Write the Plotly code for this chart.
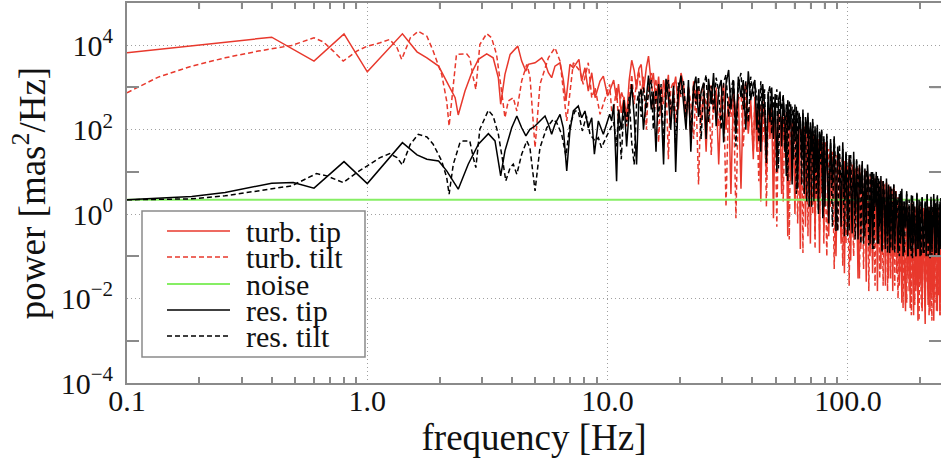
import math
import plotly.graph_objects as go

# ---------------- data (frequency in Hz, power in mas^2/Hz) ----------------
TURB_TIP_F_LOW = [0.1, 0.4, 0.6, 0.8, 1.0, 1.4, 1.61, 1.77, 1.98, 2.14, 2.32, 2.39, 2.55, 2.72, 2.90,
                  3.14, 3.34, 3.51, 3.59, 3.74, 3.93, 4.23, 4.39, 4.57, 4.68, 4.99, 5.32, 5.49, 5.67,
                  5.85, 6.04, 6.34, 6.54, 6.71, 6.97, 7.20, 7.60, 7.80, 8.05, 8.31, 8.59, 8.87, 9.30,
                  9.60, 10.0, 10.2]
TURB_TIP_P_LOW = [6600, 15500, 4210, 18600, 2350, 18600, 6980, 5040, 3200, 1420, 571, 223, 822, 2230,
                  4620, 6270, 5040, 1700, 399, 2040, 6060, 9520, 4210, 2440, 3520, 3840, 5040, 3840,
                  2230, 1700, 3200, 3840, 1550, 477, 3520, 2920, 4620, 1420, 2920, 822, 2230, 571,
                  1420, 1860, 626, 822]

TURB_TILT_F_LOW = [0.1, 0.135, 0.186, 0.256, 0.352, 0.484, 0.6, 0.656, 0.722, 0.794, 0.904, 1.0, 1.13,
                   1.24, 1.33, 1.39, 1.51, 1.63, 1.77, 1.88, 2.04, 2.14, 2.19, 2.29, 2.35, 2.59, 2.67,
                   2.76, 2.83, 2.94, 3.14, 3.29, 3.45, 3.62, 3.74, 3.86, 4.05, 4.19, 4.39, 4.61, 4.75,
                   4.99, 5.23, 5.67, 6.04, 6.34, 6.54, 6.76, 7.20, 7.68, 7.92, 8.31, 8.59, 8.87, 9.30,
                   9.60, 10.2, 10.4]
TURB_TILT_P_LOW = [750, 1760, 3200, 5040, 7260, 9890, 14960, 12030, 7260, 4210, 7260, 9520, 11400,
                   13700, 8680, 4620, 14960, 21500, 16400, 7260, 2040, 477, 122, 1700, 6060, 6270,
                   5040, 1700, 902, 10400, 18800, 14960, 6060, 822, 192, 477, 571, 277, 1420, 3520,
                   1860, 37.5, 1180, 5040, 8680, 4210, 984, 161, 3840, 2440, 1180, 3840, 571, 984,
                   231, 399, 1180, 277]

RES_TIP_F_LOW = [0.1, 0.186, 0.256, 0.330, 0.4, 0.492, 0.6, 0.8, 1.0, 1.4, 1.61, 1.77, 1.98, 2.14,
                 2.39, 2.63, 2.90, 3.19, 3.40, 3.59, 3.74, 3.99, 4.19, 4.39, 4.57, 4.75, 4.99, 5.32,
                 5.49, 5.67, 5.85, 6.04, 6.34, 6.54, 6.76, 6.97, 7.20, 7.55, 7.80, 8.05, 8.31, 8.59,
                 8.81, 9.15, 9.60, 10.2, 10.4]
RES_TIP_P_LOW = [2.18, 2.61, 3.24, 4.26, 5.41, 5.59, 4.12, 17.5, 5.29, 49.3, 25.2, 20, 18.2, 10.6,
                 3.90, 15.2, 45.2, 80.4, 54.1, 8.04, 31.4, 111, 211, 111, 71, 102, 122, 176, 211, 134,
                 77.9, 134, 231, 111, 10.6, 93.2, 277, 363, 192, 277, 111, 192, 26.2, 161, 77.9, 231,
                 161]

RES_TILT_F_LOW = [0.1, 0.186, 0.256, 0.352, 0.484, 0.615, 0.678, 0.794, 0.904, 1.0, 1.13, 1.24, 1.33,
                  1.40, 1.51, 1.63, 1.77, 1.88, 2.04, 2.14, 2.19, 2.28, 2.43, 2.51, 2.67, 2.76, 2.83,
                  2.94, 3.19, 3.34, 3.51, 3.68, 3.77, 3.93, 4.05, 4.19, 4.39, 4.61, 4.75, 4.99, 5.23,
                  5.58, 5.94, 6.14, 6.44, 6.71, 6.97, 7.32, 7.55, 7.85, 8.16, 8.45, 8.87, 9.15, 9.43,
                  10.0]
RES_TILT_P_LOW = [2.18, 2.30, 2.71, 3.56, 4.67, 9.12, 8.04, 5.59, 9.63, 13.9, 21.8, 27.1, 21.8, 14.6,
                  45.2, 77.9, 67.2, 45.2, 18.2, 7.33, 2.97, 15.2, 49.3, 54.1, 54.1, 21.8, 12.6, 102,
                  288, 211, 77.9, 15.2, 6.13, 12.6, 15.2, 8.83, 26.2, 54.1, 37.5, 3.56, 37.5, 111,
                  176, 146, 77.9, 23.9, 134, 277, 277, 93.2, 211, 77.9, 54.1, 64.7, 37.5, 77.9]

# high-frequency part, common sampling for all four spectra
HF_FREQ = [10.6, 10.9, 11.1, 11.4, 11.7, 12.0, 12.3, 12.6, 12.9, 13.2, 13.5, 13.8, 14.1, 14.5, 14.8,
           15.2, 15.5, 15.9, 16.3, 16.7, 17.1, 17.5, 17.9, 18.3, 18.8, 19.2, 19.7, 20.2,
           20.7, 21.2, 21.7, 22.2, 22.8, 23.3, 23.9, 24.5, 25.1, 25.7, 26.3, 27.0, 27.6, 28.3, 29.0,
           29.7, 30.4, 31.1, 31.9, 32.6, 33.4, 34.2, 35.0, 35.9, 36.7, 37.6, 38.5, 39.4, 40.4,
           41.0, 41.8, 42.6, 43.4, 44.2, 45.0, 45.8, 46.6, 47.4, 48.2, 49.0, 49.8, 50.6, 51.4, 52.2,
           53.0, 53.8, 54.6, 55.4, 56.2, 57.0, 57.8, 58.6, 59.4, 60.2, 61.0, 61.8, 62.6, 63.4, 64.2,
           65.0, 65.8, 66.6, 67.4, 68.2, 69.0, 69.8, 70.6, 71.4, 72.2, 73.0, 73.8, 74.6, 75.4, 76.2,
           77.0, 77.8, 78.6, 79.4, 80.2,
           81.7, 83.2, 84.7, 86.2, 87.7, 89.2, 90.7, 92.2, 93.7, 95.2, 96.7, 98.2, 99.7, 101.2,
           102.7, 104.2, 105.7, 107.2, 108.7, 110.2, 111.7, 113.2, 114.7, 116.2, 117.7, 119.2,
           120.7, 122.2, 123.7, 125.2, 126.7, 128.2, 129.7, 131.2, 132.7, 134.2, 135.7, 137.2,
           138.7, 140.2, 141.7, 143.2, 144.7, 146.2, 147.7, 149.2, 150.7, 152.2, 153.7, 155.2,
           156.7, 158.2, 159.7,
           161.7, 163.7, 165.7, 167.7, 169.7, 171.7, 173.7, 175.7, 177.7, 179.7, 181.7, 183.7,
           185.7, 187.7, 189.7, 191.7, 193.7, 195.7, 197.7, 199.7, 201.7, 203.7, 205.7, 207.7,
           209.7, 211.7, 213.7, 215.7, 217.7, 219.7, 221.7, 223.7, 225.7, 227.7, 229.7, 231.7,
           233.7, 235.7, 237.7, 239.7, 241.7, 243.7, 245.7]

TURB_TIP_P_HF = [1.5e3, 5e2, 1.2e3, 2.5e2, 6e2, 2e2, 1.5e3, 4.4e3, 2.5e3, 9e2, 2.8e3, 3.5e3, 8e2, 3e3,
                 5.5e3, 1.2e3, 2.2e3, 4e2, 1.8e3, 2.5e2, 1.5e3, 6e2, 2e3, 1.5e2, 9e2, 1.8e3, 3e2, 2.2e3,
                 1.2e3, 2e2, 8e2, 6e1, 1.4e3, 4e2, 1e3, 1.5e2, 7e2, 3e1, 9e2, 1.1e3, 2.5e2, 8e2, 1.5e1,
                 6e2, 1.2e3, 1e2, 5e2, 3, 9e2, 2e2, 7e2, 4, 6e2, 1.3e3, 8e1, 5e2, 2e1,
                 6e2, 3e1, 4e2, 2, 5e2, 1.5e2, 8, 3e2, 6e1, 4.5e2,
                 0.8, 3e2, 2e1, 2.5e2, 1.5e2, 3, 2e2, 4e1, 2.5e2, 0.3,
                 1.8e2, 6, 1.5e2, 8e1, 1, 1.5e2, 1.5e1, 1.2e2, 0.15, 1e2,
                 3e1, 1.2e2, 0.5, 8e1, 4, 1e2, 0.2, 7e1, 1.2e1, 8e1,
                 0.3, 6e1, 2, 5e1, 0.12, 6e1, 8, 4e1, 0.4, 5e1,
                 4e1, 0.3, 3e1, 2, 3.5e1, 0.1, 2.5e1, 6, 0.2, 2e1,
                 0.04, 1.8e1, 1, 2e1, 0.08, 1.5e1, 0.3, 1.2e1, 3, 0.03,
                 1.4e1, 0.15, 1e1, 0.5, 1.1e1, 0.025, 8, 1.5, 0.1, 9,
                 0.04, 7, 0.3, 8, 0.015, 6, 1, 0.05, 6, 0.2,
                 5, 0.02, 5.5, 0.6, 0.03, 4.5, 0.1, 4, 0.015, 4,
                 0.3, 3.5, 0.04,
                 2.5, 0.02, 2, 0.008, 1.5, 0.1, 0.005, 2.2, 0.03, 1.2,
                 0.006, 1.8, 0.05, 0.004, 1.5, 0.015, 0.8, 0.003, 1.6, 0.02,
                 0.4, 0.006, 1.4, 0.01, 0.0025, 1.2, 0.04, 0.007, 1.5, 0.005,
                 0.6, 0.012, 1.3, 0.003, 0.2, 1.1, 0.008, 0.005, 1.4, 0.02,
                 0.004, 1, 0.01]

TURB_TILT_P_HF = [3e2, 1e3, 1.5e2, 8e2, 5e2, 1.2e2, 6e2, 2e3, 4e2, 1.5e3, 2.5e3, 6e2, 1.8e3, 1e2,
                  1.2e3, 2.2e3, 3e2, 1.6e3, 5e1, 1.1e3, 4e2, 1.5e3, 2e1, 9e2, 1.4e3, 1.5e2, 1e3, 6e2,
                  8e2, 1.5e2, 1.1e3, 4e2, 6e1, 9e2, 5, 7e2, 1.2e3, 3e2, 8e2, 2.5e1, 6e2, 1e3, 1.2e2,
                  5e2, 8e2, 1.5, 6e2, 2e2, 7e2, 0.8, 5e2, 8e2, 4e1, 6e2, 1e2, 4e2, 3e1,
                  5e2, 2e2, 6, 4e2, 5e1, 3.5e2, 1.5, 3e2, 1e2, 2.5e2,
                  1e1, 3e2, 0.5, 2e2, 6e1, 2.2e2, 2, 1.5e2, 2e1, 1.8e2,
                  0.25, 1.5e2, 5e1, 1.2e2, 4, 1.3e2, 0.6, 1e2, 2.5e1, 1.1e2,
                  0.12, 9e1, 6, 8e1, 0.3, 9e1, 2e1, 7e1, 1, 6e1,
                  0.15, 5.5e1, 1e1, 6e1, 0.4, 4.5e1, 3, 5e1, 0.2, 4e1,
                  0.1, 3.5e1, 1.5, 3e1, 0.05, 2.5e1, 0.4, 2.2e1, 5, 0.06,
                  1.8e1, 0.2, 1.5e1, 0.02, 1.6e1, 2, 0.1, 1.2e1, 0.5, 1.3e1,
                  0.03, 1e1, 3, 0.05, 9, 0.2, 1e1, 0.015, 8, 1,
                  0.08, 7, 0.02, 7.5, 0.4, 6, 0.03, 6.5, 2, 0.02,
                  5, 0.12, 5.5, 0.015, 4.5, 0.5, 0.03, 4, 0.08, 4.5,
                  0.02, 3.5, 0.2,
                  0.01, 2.5, 0.04, 1.8, 0.006, 2, 0.2, 0.008, 1.5, 0.015,
                  1, 0.004, 1.8, 0.06, 0.007, 1.3, 0.02, 0.5, 0.003, 1.5,
                  0.01, 0.005, 1.2, 0.1, 0.006, 1.4, 0.025, 0.8, 0.004, 1.2,
                  0.015, 0.003, 1.1, 0.3, 0.008, 1.3, 0.005, 0.6, 0.012, 1,
                  0.004, 1.2, 0.008]

RES_TIP_P_HF = [4e2, 6, 3e2, 1e2, 5e2, 4e1, 3e2, 1.2e3, 2e2, 1.5e1, 6e2, 9e2, 1e2, 5e2, 1.9e3, 3e2,
                8e2, 3e1, 1.2e3, 4e2, 1.5e1, 1.6e3, 6e2, 1e2, 1.1e3, 1e1, 8e2, 1.9e3,
                5e2, 1e2, 1.5e3, 3e1, 1e3, 1.8e3, 2e2, 8e2, 1.3e3, 6e1, 1.6e3, 4e2, 2.2e3, 1.2e2,
                9e2, 1.5e3, 5e1, 1.2e3, 2.6e3, 3e2, 1.4e3, 8e1, 1.8e3, 6e2, 1.5e3, 1e2, 2.4e3, 5e2,
                1.2e3,
                1.5e3, 1e2, 9e2, 3e1, 1.2e3, 4e2, 2e1, 8e2, 1.5e2, 1e3,
                6e1, 7e2, 1e1, 5e2, 8e2, 4e1, 6e2, 2e2, 8, 5e2,
                1e2, 4e2, 5, 3e2, 6e1, 3.5e2, 4, 2.5e2, 1.5e2, 2e1,
                3e2, 3, 2e2, 8e1, 2.5e2, 1.5, 1.5e2, 3e1, 1.8e2, 2,
                1.2e2, 1e1, 1.3e2, 1, 9e1, 4e1, 1e2, 0.8, 7e1, 1.5,
                8e1, 0.6, 6e1, 5, 7e1, 0.4, 4e1, 1.5e1, 0.5, 5e1,
                2, 3e1, 0.3, 2.5e1, 6, 0.35, 3e1, 1, 2e1, 0.25,
                1.5e1, 3, 1.8e1, 0.2, 1.2e1, 0.6, 1.5e1, 4, 0.2, 1e1,
                0.15, 9, 1.5, 1e1, 0.2, 7, 0.5, 8, 0.13, 6,
                2, 0.15, 7, 0.3, 5, 0.12, 4.5, 1, 0.14, 5,
                0.2, 3.5, 0.5,
                0.12, 3, 0.2, 4, 0.1, 2, 0.5, 3.5, 0.1, 1.5,
                0.15, 2.8, 0.09, 2, 0.3, 0.1, 3, 0.15, 2.2, 0.1,
                1, 2.5, 0.12, 0.4, 2, 0.1, 2.8, 0.2, 1.5, 0.09,
                2.2, 0.15, 0.6, 3, 0.1, 1.8, 0.12, 2.5, 0.3, 0.1,
                2, 0.15, 2.4]

RES_TILT_P_HF = [1.5e2, 4e1, 2.5e2, 2e1, 4e2, 1.5e2, 6e2, 5e1, 1.5e1, 4e2, 8e2, 2e2, 1e3, 3e2, 7e2,
                 1.5e3, 1e2, 9e2, 2e2, 1.2e3, 5e1, 8e2, 1.5e3, 3e2, 6e2, 4e1, 1.3e3, 7e2,
                 1.4e3, 2e2, 9e2, 8e1, 1.2e3, 4e2, 1.8e3, 6e1, 1e3, 2e3, 1.5e2, 1.1e3, 3e2, 1.7e3,
                 8e2, 1e2, 1.3e3, 2e3, 2e2, 9e2, 1.6e3, 4e1, 1.2e3, 2.2e3, 3e2, 1.4e3, 1.5e2, 1.8e3,
                 6e2,
                 1.2e3, 6e2, 5e1, 1.4e3, 2e2, 9e2, 1.5e1, 7e2, 1.1e3, 8e1,
                 6e2, 2.5e2, 9e2, 1.2e1, 5e2, 3e2, 7e2, 3e1, 4e2, 6,
                 5e2, 1.5e2, 3.5e2, 2e1, 4e2, 3, 2.8e2, 1e2, 2e2, 5,
                 2.5e2, 4e1, 1.5e2, 2, 2e2, 6e1, 1.2e2, 1.5, 1.6e2, 2e1,
                 1e2, 3, 1.1e2, 1.2, 8e1, 1.5e1, 9e1, 0.9, 6e1, 5,
                 7e1, 2, 5e1, 0.5, 6e1, 1e1, 0.4, 4.5e1, 3, 3.5e1,
                 0.3, 2.8e1, 8, 0.4, 2.5e1, 1.5, 2e1, 0.25, 1.8e1, 4,
                 1.2e1, 0.2, 1.5e1, 2, 0.3, 1.1e1, 5, 0.18, 9, 0.8,
                 1e1, 0.15, 7, 2.5, 8, 0.2, 6, 0.6, 0.14, 6.5,
                 3, 0.2, 5, 0.12, 4.5, 1.5, 0.15, 4, 0.4, 5,
                 0.12, 3, 0.8,
                 2.5, 0.1, 3.5, 0.3, 2, 0.12, 1.2, 3, 0.1, 2.2,
                 0.5, 0.1, 2.8, 0.2, 1.6, 0.1, 3.2, 0.15, 0.8, 2,
                 0.1, 2.5, 0.3, 0.12, 1.8, 0.4, 3, 0.1, 1.2, 0.2,
                 2.6, 0.1, 1.5, 0.5, 2.2, 0.12, 0.7, 2.8, 0.1, 1.8,
                 0.2, 2.4, 0.15]

NOISE_F = [0.1, 250.0]
NOISE_P = [2.18, 2.18]

for arr in (TURB_TIP_P_HF, TURB_TILT_P_HF, RES_TIP_P_HF, RES_TILT_P_HF):
    assert len(arr) == len(HF_FREQ), (len(arr), len(HF_FREQ))

X_TICKS = [0.1, 1, 10, 100]
X_TICK_TEXT = ["0.1", "1.0", "10.0", "100.0"]
X_MINOR = [0.2, 0.3, 0.4, 0.5, 0.6, 0.7, 0.8, 0.9, 2, 3, 4, 5, 6, 7, 8, 9,
           20, 30, 40, 50, 60, 70, 80, 90, 200]
Y_TICKS = [1e-4, 1e-2, 1, 1e2, 1e4]
Y_TICK_TEXT = ["10<sup>−4</sup>", "10<sup>−2</sup>", "10<sup>0</sup>", "10<sup>2</sup>", "10<sup>4</sup>"]
Y_MINOR = [1e-3, 1e-1, 10, 1e3]

LEGEND_NAMES = ["turb. tip", "turb. tilt", "noise", "res. tip", "res. tilt"]

# ---------------- styling ----------------
RED = "#e8382c"
GREEN = "#86ee64"
BLACK = "#000000"
AXIS = "#8a8a8a"
GRID = "#a0a0a0"
FONT = "Liberation Serif"
W, H = 941, 470
ML, MR, MT, MB = 127, 0, 3, 87
PW, PH = W - ML - MR, H - MT - MB
X_RANGE = [-1, -1 + PW / 240.3]
Y_RANGE = [-4, 5]


def px(x):
    return (x - ML) / PW


def py(y):
    return (H - MB - y) / PH


series = [
    (TURB_TIP_F_LOW + HF_FREQ, TURB_TIP_P_LOW + TURB_TIP_P_HF, RED, "solid"),
    (TURB_TILT_F_LOW + HF_FREQ, TURB_TILT_P_LOW + TURB_TILT_P_HF, RED, "5px,3px"),
    (NOISE_F, NOISE_P, GREEN, "solid"),
    (RES_TIP_F_LOW + HF_FREQ, RES_TIP_P_LOW + RES_TIP_P_HF, BLACK, "solid"),
    (RES_TILT_F_LOW + HF_FREQ, RES_TILT_P_LOW + RES_TILT_P_HF, BLACK, "5px,3px"),
]

fig = go.Figure()
for (f, p, c, d), name in zip(series, LEGEND_NAMES):
    fig.add_trace(go.Scatter(x=f, y=p, mode="lines", name=name, showlegend=False,
                             line=dict(color=c, width=2 if c == GREEN else 1.5, dash=d)))

shapes = []
# mirrored minor ticks on the top and right frame edges
for v in X_MINOR:
    xp = (math.log10(v) - X_RANGE[0]) / (X_RANGE[1] - X_RANGE[0])
    shapes.append(dict(type="line", xref="paper", yref="paper", x0=xp, x1=xp, y0=1, y1=1 - 6 / PH,
                       line=dict(color=AXIS, width=1.5), layer="above"))
for v in Y_MINOR:
    yp = (math.log10(v) - Y_RANGE[0]) / (Y_RANGE[1] - Y_RANGE[0])
    shapes.append(dict(type="line", xref="paper", yref="paper", x0=1, x1=1 - 11 / PW, y0=yp, y1=yp,
                       line=dict(color=AXIS, width=1.5), layer="above"))

# manual legend box
shapes.append(dict(type="rect", xref="paper", yref="paper", x0=px(142), x1=px(365), y0=py(357), y1=py(211),
                   line=dict(color=AXIS, width=1.5), fillcolor="white", layer="above"))
annotations = []
row_y = [231, 257, 284, 310, 336]
for (f, p, c, d), name, ry in zip(series, LEGEND_NAMES, row_y):
    shapes.append(dict(type="line", xref="paper", yref="paper", x0=px(167), x1=px(230),
                       y0=py(ry), y1=py(ry), layer="above",
                       line=dict(color=c, width=2 if c == GREEN else 1.5, dash=d)))
    annotations.append(dict(xref="paper", yref="paper", x=px(244), y=py(ry), text=name,
                            showarrow=False, xanchor="left", yanchor="middle",
                            font=dict(family=FONT, size=30, color="#111")))

fig.update_layout(
    width=W, height=H, margin=dict(l=ML, r=MR, t=MT, b=MB, autoexpand=False),
    paper_bgcolor="white", plot_bgcolor="white",
    shapes=shapes, annotations=annotations, showlegend=False,
    xaxis=dict(type="log", range=X_RANGE, tickvals=X_TICKS, ticktext=X_TICK_TEXT,
               ticks="", showgrid=True, gridcolor=GRID, griddash="1px,3px", gridwidth=1,
               showline=True, linecolor=AXIS, linewidth=2, mirror="allticks", zeroline=False,
               automargin=False, ticklabelstandoff=-10,
               tickfont=dict(family=FONT, size=30, color="#111"),
               minor=dict(tickvals=X_MINOR, ticks="inside", ticklen=6, tickcolor=AXIS, tickwidth=1.5,
                          showgrid=False),
               title=dict(text="frequency [Hz]", font=dict(family=FONT, size=37, color="#111"),
                          standoff=2)),
    yaxis=dict(type="log", range=Y_RANGE, tickvals=Y_TICKS, ticktext=Y_TICK_TEXT,
               ticks="", showgrid=True, gridcolor=GRID, griddash="1px,3px", gridwidth=1,
               showline=True, linecolor=AXIS, linewidth=2, mirror="allticks", zeroline=False,
               automargin=False, ticklabelstandoff=6,
               tickfont=dict(family=FONT, size=30, color="#111"),
               minor=dict(tickvals=Y_MINOR, ticks="inside", ticklen=12, tickcolor=AXIS, tickwidth=1.5,
                          showgrid=False),
               title=dict(text="power [mas<sup>2</sup>/Hz]", font=dict(family=FONT, size=37, color="#111"),
                          standoff=4)),
)

# remove the browser's default 8px body margin so the figure sits at the page origin
fig.write_html("out.html", config={"displayModeBar": False},
               post_script="document.body.style.margin='0';")
